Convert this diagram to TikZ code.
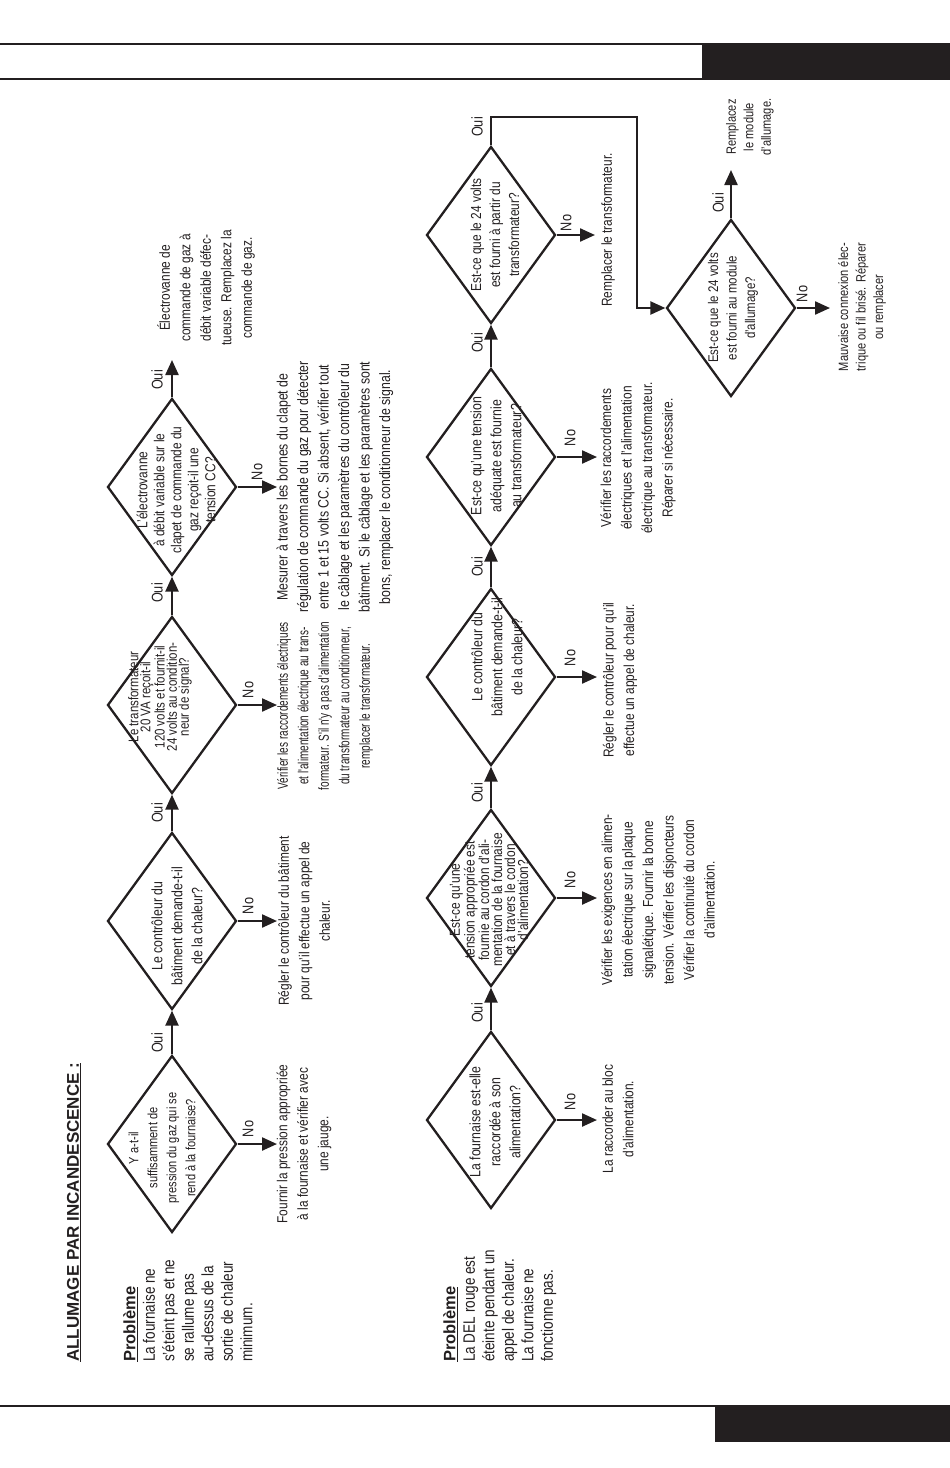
\documentclass[tikz,border=0pt]{standalone}
\usepackage{fontspec}
\setmainfont{Liberation Sans}[FakeStretch=0.82]
\newfontfamily\widefont{Liberation Sans}
\newfontfamily\narrowfont{Liberation Sans}[FakeStretch=0.69]
\usetikzlibrary{shapes.geometric,arrows.meta}
\definecolor{ink}{HTML}{231F20}
\begin{document}
\begin{tikzpicture}[x=1pt,y=-1pt,
  dia/.style={draw=ink, line width=2.3pt, shape=diamond, minimum width=129pt, minimum height=177pt, inner sep=0pt},
  arr/.style={draw=ink, line width=2.3pt, -{Triangle[length=15pt,width=13pt]}},
  conn/.style={draw=ink, line width=2.3pt},
  dtext/.style={rotate=90, align=center, inner sep=0pt, text=ink, font=\fontsize{15}{20}\selectfont},
  ntext/.style={rotate=90, align=center, inner sep=0pt, text=ink, font=\fontsize{14.5}{20.5}\selectfont},
  lab/.style={rotate=90, inner sep=0pt, text=ink, font=\fontsize{15.5}{18}\selectfont},
  ptext/.style={rotate=90, align=left, inner sep=0pt, text=ink, anchor=north west, font=\fontsize{16.5}{19.5}\selectfont},
  bar/.style={draw=ink, line width=1.3pt},
]
\useasboundingbox (0,0) rectangle (950,1468);
% page bars
\draw[bar] (0,44) -- (950,44);
\draw[bar] (0,79) -- (702,79);
\fill[ink] (702,44) rectangle (950,80);
\draw[bar] (0,1406) -- (950,1406);
\fill[ink] (715,1406) rectangle (950,1442);

% title
\node[rotate=90, anchor=west, inner sep=0pt, text=ink, font=\widefont\bfseries\fontsize{17}{20}\selectfont] (title) at (74,1362) {\underline{ALLUMAGE PAR INCANDESCENCE :}};

% problem blocks
\node[ptext] (prob1) at (123,1362) {{\widefont\bfseries\underline{Problème}}\\La fournaise ne\\s'éteint pas et ne\\se rallume pas\\au-dessus de la\\sortie de chaleur\\minimum.};
\node[ptext] (prob2) at (443,1362) {{\widefont\bfseries\underline{Problème}}\\La DEL rouge est\\éteinte pendant un\\appel de chaleur.\\La fournaise ne\\fonctionne pas.};

% upper row diamonds
\node[dia] (ud1) at (172,1144) {};
\node[dia] (ud2) at (172,921) {};
\node[dia] (ud3) at (172,705) {};
\node[dia] (ud4) at (172,487) {};

\node[dtext, font=\fontsize{13.5}{19}\selectfont] (ud1t) at (162,1148) {Y a-t-il\\suffisamment de\\pression du gaz qui se\\rend à la fournaise?};
\node[dtext] (ud2t) at (177,926) {Le contrôleur du\\bâtiment demande-t-il\\de la chaleur?};
\node[dtext, font=\fontsize{14}{12.2}\selectfont] (ud3t) at (160,697) {Le transformateur\\20 VA reçoit-il\\120 volts et fournit-il\\24 volts au condition-\\neur de signal?};
\node[dtext, font=\fontsize{14.5}{17}\selectfont] (ud4t) at (176,490) {L'électrovanne\\à débit variable sur le\\clapet de commande du\\gaz reçoit-il une\\tension CC?};

\draw[arr] (ud1.north) -- (ud2.south);
\draw[arr] (ud2.north) -- (ud3.south);
\draw[arr] (ud3.north) -- (ud4.south);
\coordinate (uoktip) at (172,360);
\draw[arr] (ud4.north) -- (uoktip);

\node[lab] (uo1) at (157,1043) {Oui};
\node[lab] (uo2) at (157,813) {Oui};
\node[lab] (uo3) at (157,593) {Oui};
\node[lab] (uo4) at (157,380) {Oui};

\coordinate (un1tip) at (277,1144);
\coordinate (un2tip) at (277,921);
\coordinate (un3tip) at (277,705);
\coordinate (un4tip) at (277,487);
\draw[arr] (ud1.east) -- (un1tip);
\draw[arr] (ud2.east) -- (un2tip);
\draw[arr] (ud3.east) -- (un3tip);
\draw[arr] (ud4.east) -- (un4tip);
\node[lab] (unl1) at (248,1129) {No};
\node[lab] (unl2) at (248,906) {No};
\node[lab] (unl3) at (248,690) {No};
\node[lab] (unl4) at (257,472) {No};

\node[ntext] (un1) at (304,1144) {Fournir la pression appropriée\\à la fournaise et vérifier avec\\une jauge.};
\node[ntext] (un2) at (304,921) {Régler le contrôleur du bâtiment\\pour qu'il effectue un appel de\\chaleur.};
\node[ntext, font=\narrowfont\fontsize{14.5}{20.5}\selectfont] (un3) at (325,706) {Vérifier les raccordements électriques\\et l'alimentation électrique au trans-\\formateur. S'il n'y a pas d'alimentation\\du transformateur au conditionneur,\\remplacer le transformateur.};
\node[ntext, font=\fontsize{15}{20.5}\selectfont] (un4) at (335,487) {Mesurer à travers les bornes du clapet de\\régulation de commande du gaz pour détecter\\entre 1 et 15 volts CC. Si absent, vérifier tout\\le câblage et les paramètres du contrôleur du\\bâtiment. Si le câblage et les paramètres sont\\bons, remplacer le conditionneur de signal.};
\node[ntext] (uok) at (206,288) {Électrovanne de\\commande de gaz à\\débit variable défec-\\tueuse. Remplacez la\\commande de gaz.};

% lower row diamonds
\node[dia] (ld1) at (491,1120) {};
\node[dia] (ld2) at (491,898) {};
\node[dia] (ld3) at (491,677) {};
\node[dia] (ld4) at (491,457) {};
\node[dia] (ld5) at (491,235) {};
\node[dia] (ld6) at (731,308) {};

\node[dtext] (ld1t) at (495,1122) {La fournaise est-elle\\raccordée à son\\alimentation?};
\node[dtext, font=\fontsize{14.5}{13}\selectfont] (ld2t) at (489,900) {Est-ce qu'une\\tension appropriée est\\fournie au cordon d'ali-\\mentation de la fournaise\\et à travers le cordon\\d'alimentation?};
\node[dtext] (ld3t) at (497,657) {Le contrôleur du\\bâtiment demande-t-il\\de la chaleur?};
\node[dtext] (ld4t) at (496,456) {Est-ce qu'une tension\\adéquate est fournie\\au transformateur?};
\node[dtext, font=\fontsize{14.5}{19}\selectfont] (ld5t) at (495,235) {Est-ce que le 24 volts\\est fourni à partir du\\transformateur?};
\node[dtext, font=\fontsize{14}{18.5}\selectfont] (ld6t) at (733,308) {Est-ce que le 24 volts\\est fourni au module\\d'allumage?};

\draw[arr] (ld1.north) -- (ld2.south);
\draw[arr] (ld2.north) -- (ld3.south);
\draw[arr] (ld3.north) -- (ld4.south);
\draw[arr] (ld4.north) -- (ld5.south);
\coordinate (lc1) at (491,117);
\coordinate (lc2) at (637,117);
\coordinate (lc3) at (637,308);
\draw[arr] (ld5.north) -- (lc1) -- (lc2) -- (lc3) -- (ld6.west);
\coordinate (l6oktip) at (731,170);
\draw[arr] (ld6.north) -- (l6oktip);

\node[lab] (lo1) at (477,1013) {Oui};
\node[lab] (lo2) at (477,793) {Oui};
\node[lab] (lo3) at (477,567) {Oui};
\node[lab] (lo4) at (477,343) {Oui};
\node[lab] (lo5) at (477,127) {Oui};
\node[lab] (lo6) at (718,203) {Oui};

\coordinate (ln1tip) at (597,1120);
\coordinate (ln2tip) at (597,898);
\coordinate (ln3tip) at (597,677);
\coordinate (ln4tip) at (597,457);
\coordinate (ln5tip) at (595,235);
\coordinate (ln6tip) at (830,308);
\draw[arr] (ld1.east) -- (ln1tip);
\draw[arr] (ld2.east) -- (ln2tip);
\draw[arr] (ld3.east) -- (ln3tip);
\draw[arr] (ld4.east) -- (ln4tip);
\draw[arr] (ld5.east) -- (ln5tip);
\draw[arr] (ld6.east) -- (ln6tip);
\node[lab] (lnl1) at (570,1102) {No};
\node[lab] (lnl2) at (570,880) {No};
\node[lab] (lnl3) at (570,658) {No};
\node[lab] (lnl4) at (570,438) {No};
\node[lab] (lnl5) at (566,223) {No};
\node[lab] (lnl6) at (802,294) {No};

\node[ntext] (ln1) at (618,1119) {La raccorder au bloc\\d'alimentation.};
\node[ntext] (ln2) at (658,900) {Vérifier les exigences en alimen-\\tation électrique sur la plaque\\signalétique. Fournir la bonne\\tension. Vérifier les disjoncteurs\\Vérifier la continuité du cordon\\d'alimentation.};
\node[ntext] (ln3) at (620,680) {Régler le contrôleur pour qu'il\\effectue un appel de chaleur.};
\node[ntext] (ln4) at (638,458) {Vérifier les raccordements\\électriques et l'alimentation\\électrique au transformateur.\\Réparer si nécessaire.};
\node[ntext] (ln5) at (608,230) {Remplacer le transformateur.};
\node[ntext, font=\fontsize{13.5}{17.5}\selectfont] (ln6) at (862,307) {Mauvaise connexion élec-\\trique ou fil brisé. Réparer\\ou remplacer};
\node[ntext, font=\fontsize{13.5}{17.5}\selectfont] (l6ok) at (750,127) {Remplacez\\le module\\d'allumage.};
\end{tikzpicture}
\end{document}
